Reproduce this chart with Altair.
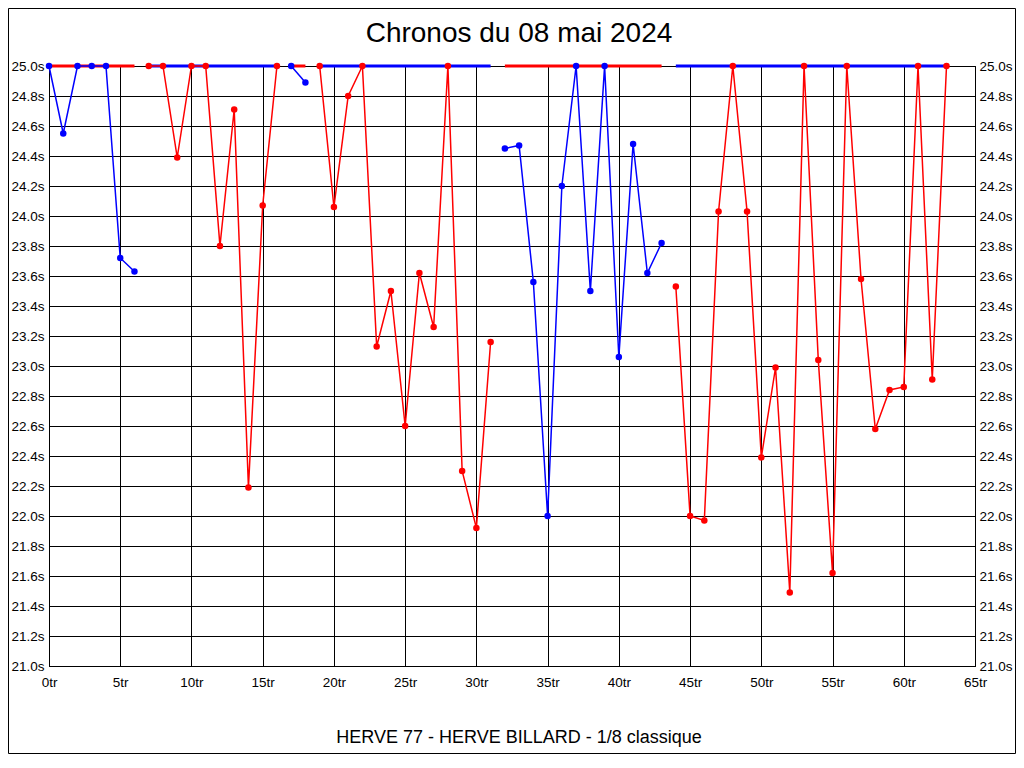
import altair as alt
import pandas as pd

# ---- data ----
turns = list(range(64))
times = [25.0, 24.55, 25.0, 25.0, 25.0, 23.72, 23.63,
         25.0, 25.0, 24.39, 25.0, 25.0, 23.80, 24.71, 22.19, 24.07, 25.0,
         25.0, 24.89,
         25.0, 24.06, 24.80, 25.0, 23.13, 23.50, 22.60, 23.62, 23.26, 25.0, 22.30, 21.92, 23.16,
         24.45, 24.47, 23.56, 22.00, 24.20, 25.0, 23.50, 25.0, 23.06, 24.48, 23.62, 23.82,
         23.53, 22.00, 21.97, 24.03, 25.0, 24.03, 22.39, 22.99, 21.49, 25.0, 23.04, 21.62,
         25.0, 23.58, 22.58, 22.84, 22.86, 25.0, 22.91, 25.0]
run_start = [0, 7, 17, 19, 32, 44]
run_end = [6, 16, 18, 31, 43, 63]
run_player = ["B", "R", "B", "R", "B", "R"]
top_player = ["R", "B", "R", "B", "R", "B"]
top_value = [25.0] * 6

x_ticks = list(range(0, 70, 5))
y_ticks = [round(21.0 + 0.2 * i, 1) for i in range(21)]

title_text = "Chronos du 08 mai 2024"
caption_text = "HERVE 77 - HERVE BILLARD - 1/8 classique"

# ---- tables ----
rows = []
for r, (s, e, p) in enumerate(zip(run_start, run_end, run_player)):
    for t in range(s, e + 1):
        rows.append({"turn": turns[t], "time": times[t], "player": p, "run": r})
df = pd.DataFrame(rows)
top_df = pd.DataFrame({"start": run_start, "end": run_end, "player": top_player, "time": top_value})

FONT = "Liberation Sans"
W, H = 926, 600
PL, PT, PR, PB = 41, 58, 41, 88

common_axis = dict(ticks=False, title=None, labelFlush=False, labelFont=FONT, labelFontSize=13.5,
                   labelColor="black", domainColor="black", domainWidth=1,
                   gridColor="black", gridOpacity=1, gridWidth=1)

color = alt.Color("player:N", scale=alt.Scale(domain=["B", "R"], range=["#0000ff", "#ff0000"]), legend=None)
xscale = alt.Scale(domain=[0, 65], nice=False, zero=False)
yscale = alt.Scale(domain=[21.0, 25.0], nice=False, zero=False)

xaxis = alt.Axis(values=x_ticks, labelExpr="datum.value + 'tr'", grid=True,
                 labelPadding=9, labelAlign="center", **common_axis)
yaxis_left = alt.Axis(values=y_ticks, labelExpr="format(datum.value, '.1f') + 's'", grid=True,
                      orient="left", labelPadding=5, **common_axis)
yaxis_right = alt.Axis(values=y_ticks, labelExpr="format(datum.value, '.1f') + 's'", grid=False,
                       orient="right", labelPadding=4, **common_axis)

top_lines = alt.Chart(top_df).mark_rule(strokeWidth=3).encode(
    x=alt.X("start:Q", scale=xscale, axis=xaxis),
    x2="end:Q",
    y=alt.Y("time:Q", scale=yscale, axis=yaxis_left),
    color=color,
)

lines = alt.Chart(df).mark_line(strokeWidth=1.5).encode(
    x=alt.X("turn:Q", scale=xscale, axis=xaxis),
    y=alt.Y("time:Q", scale=yscale, axis=None),
    color=color,
    detail="run:N",
    order="turn:Q",
)

points = alt.Chart(df).mark_circle(size=42, opacity=1).encode(
    x=alt.X("turn:Q", scale=xscale, axis=xaxis),
    y=alt.Y("time:Q", scale=yscale, axis=yaxis_right),
    color=color,
)

one = alt.Data(values=[{"k": 1}])
title = alt.Chart(one).mark_text(font=FONT, fontSize=28, align="center", baseline="alphabetic",
                                 color="black").encode(
    x=alt.value(W / 2 + 7), y=alt.value(-24), text=alt.value(title_text))
caption = alt.Chart(one).mark_text(font=FONT, fontSize=18, align="center", baseline="alphabetic",
                                   color="black").encode(
    x=alt.value(W / 2 + 7), y=alt.value(677), text=alt.value(caption_text))
frame = alt.Chart(one).mark_rect(filled=False, stroke="black", strokeWidth=1).encode(
    x=alt.value(-PL + 0.5), x2=alt.value(W + PR - 0.5),
    y=alt.value(-PT + 0.5), y2=alt.value(H + PB - 0.5))

chart = alt.layer(top_lines, lines, points, title, caption, frame).resolve_axis(
    y="independent"
).properties(
    width=W, height=H,
    background="white",
    autosize=alt.AutoSizeParams(type="none"),
    padding={"left": PL, "top": PT, "right": PR, "bottom": PB},
).configure_view(
    stroke="black", strokeWidth=1
)

chart.save("out.html", embed_options={"renderer": "svg", "actions": False})
